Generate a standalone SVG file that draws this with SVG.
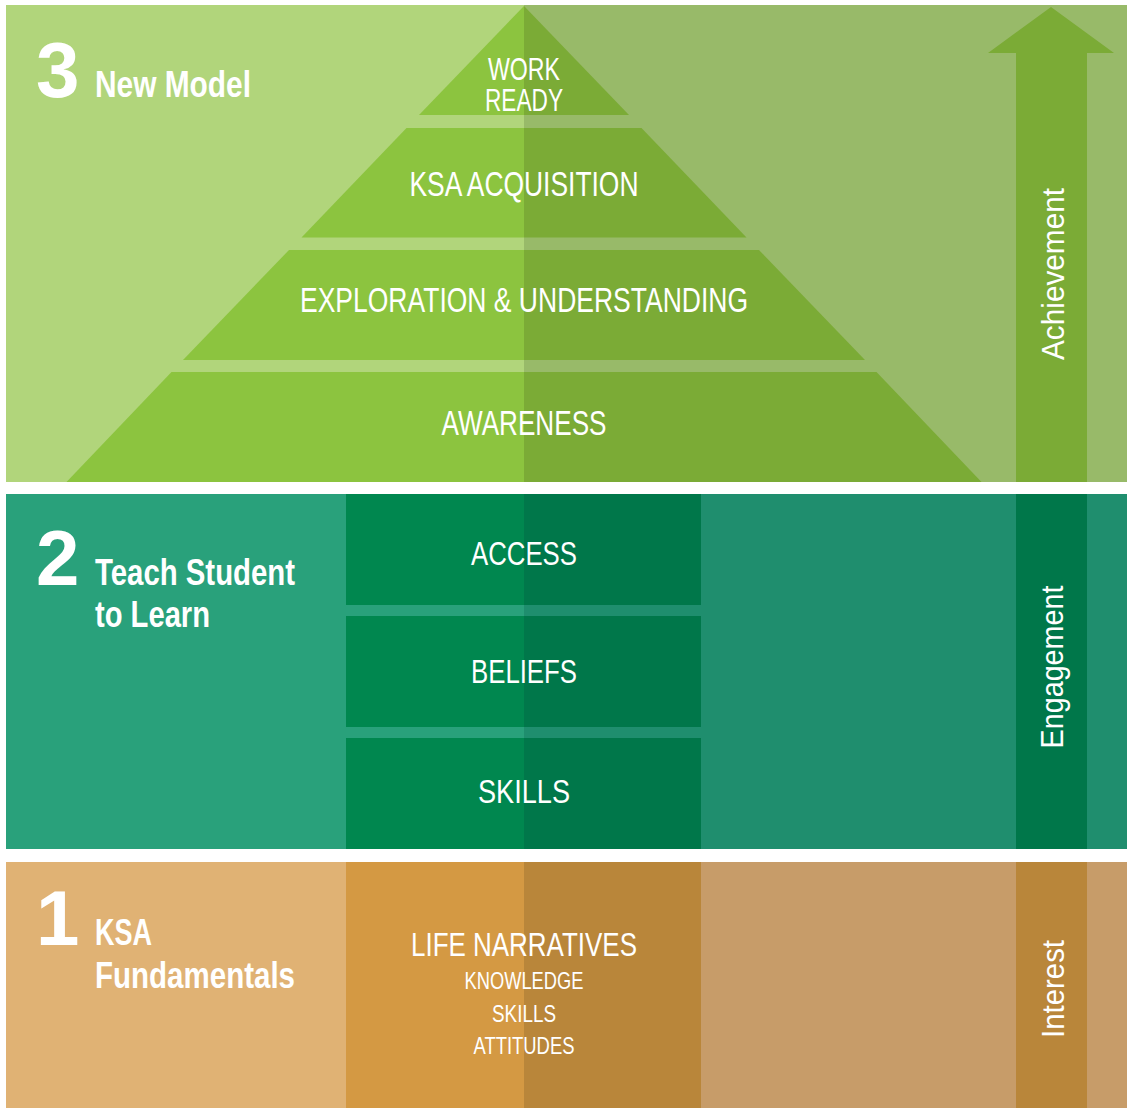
<svg xmlns="http://www.w3.org/2000/svg" width="1127" height="1108" viewBox="0 0 1127 1108">
<style>
.t{font-family:"Liberation Sans",Arial,sans-serif;fill:#fff;}
.b{font-weight:bold;}
.c{text-anchor:middle;}
.num{font-size:78px;font-weight:bold;}
.ttl{font-size:36px;}
.lbl{font-size:34px;}
.pyr{font-size:35px;}
.sm{font-size:24px;}
.rot{font-size:32px;text-anchor:middle;}
</style>
<rect width="1127" height="1108" fill="#ffffff"/>

<g id="section3">
  <rect x="6" y="5" width="518" height="477" fill="#b1d57b"/>
  <rect x="524" y="5" width="603" height="477" fill="#98ba69"/>
  <text class="t num" x="36" y="97">3</text>
  <text class="t b ttl" x="95" y="97" textLength="156" lengthAdjust="spacingAndGlyphs">New Model</text>
</g>

<g id="work-ready">
  <polygon points="524,6 419,115 524,115" fill="#8cc43f"/>
  <polygon points="524,6 629,115 524,115" fill="#7bab36"/>
  <text class="t c" font-size="31" x="524" y="80" textLength="72" lengthAdjust="spacingAndGlyphs">WORK</text>
  <text class="t c" font-size="31" x="524" y="111" textLength="78" lengthAdjust="spacingAndGlyphs">READY</text>
</g>

<g id="ksa-acquisition">
  <polygon points="406.5,128 524,128 524,237.5 301.5,237.5" fill="#8cc43f"/>
  <polygon points="524,128 641.5,128 746.5,237.5 524,237.5" fill="#7bab36"/>
  <text class="t c pyr" x="524" y="196" textLength="229" lengthAdjust="spacingAndGlyphs">KSA ACQUISITION</text>
</g>

<g id="exploration">
  <polygon points="289,250 524,250 524,360 183,360" fill="#8cc43f"/>
  <polygon points="524,250 759,250 865,360 524,360" fill="#7bab36"/>
  <text class="t c pyr" x="524" y="312" textLength="448" lengthAdjust="spacingAndGlyphs">EXPLORATION &amp; UNDERSTANDING</text>
</g>

<g id="awareness">
  <polygon points="171.5,372 524,372 524,482 66.5,482" fill="#8cc43f"/>
  <polygon points="524,372 876.5,372 981.5,482 524,482" fill="#7bab36"/>
  <text class="t c pyr" x="524" y="435" textLength="165" lengthAdjust="spacingAndGlyphs">AWARENESS</text>
</g>

<g id="achievement-arrow">
  <polygon points="1051,7 1114,53 1087,53 1087,482 1016,482 1016,53 988,53" fill="#7bab36"/>
  <text class="t rot" transform="translate(1064,274) rotate(-90)" textLength="172" lengthAdjust="spacingAndGlyphs">Achievement</text>
</g>

<g id="section2">
  <rect x="6" y="494" width="518" height="355" fill="#29a17b"/>
  <rect x="524" y="494" width="603" height="355" fill="#1f8e6e"/>
  <text class="t num" x="36" y="585">2</text>
  <text class="t b ttl" x="95" y="585" textLength="200" lengthAdjust="spacingAndGlyphs">Teach Student</text>
  <text class="t b ttl" x="95" y="627" textLength="115" lengthAdjust="spacingAndGlyphs">to Learn</text>
</g>

<g id="access">
  <rect x="346" y="494" width="178" height="111" fill="#00874f"/>
  <rect x="524" y="494" width="177" height="111" fill="#00774a"/>
  <text class="t c lbl" x="524" y="565" textLength="106" lengthAdjust="spacingAndGlyphs">ACCESS</text>
</g>

<g id="beliefs">
  <rect x="346" y="616" width="178" height="111" fill="#00874f"/>
  <rect x="524" y="616" width="177" height="111" fill="#00774a"/>
  <text class="t c lbl" x="524" y="683" textLength="106" lengthAdjust="spacingAndGlyphs">BELIEFS</text>
</g>

<g id="skills">
  <rect x="346" y="738" width="178" height="111" fill="#00874f"/>
  <rect x="524" y="738" width="177" height="111" fill="#00774a"/>
  <text class="t c lbl" x="524" y="803" textLength="92" lengthAdjust="spacingAndGlyphs">SKILLS</text>
</g>

<g id="engagement-bar">
  <rect x="1016" y="494" width="71" height="355" fill="#00774a"/>
  <text class="t rot" transform="translate(1063,667) rotate(-90)" textLength="163" lengthAdjust="spacingAndGlyphs">Engagement</text>
</g>

<g id="section1">
  <rect x="6" y="862" width="340" height="246" fill="#e0b274"/>
  <rect x="701" y="862" width="426" height="246" fill="#c79c69"/>
  <text class="t num" x="36" y="945">1</text>
  <text class="t b ttl" x="95" y="945" textLength="57" lengthAdjust="spacingAndGlyphs">KSA</text>
  <text class="t b ttl" x="95" y="988" textLength="200" lengthAdjust="spacingAndGlyphs">Fundamentals</text>
</g>

<g id="life-narratives">
  <rect x="346" y="862" width="178" height="246" fill="#d49943"/>
  <rect x="524" y="862" width="177" height="246" fill="#b9863a"/>
  <text class="t c lbl" x="524" y="956" textLength="226" lengthAdjust="spacingAndGlyphs">LIFE NARRATIVES</text>
  <text class="t c sm" x="524" y="989" textLength="119" lengthAdjust="spacingAndGlyphs">KNOWLEDGE</text>
  <text class="t c sm" x="524" y="1022" textLength="64" lengthAdjust="spacingAndGlyphs">SKILLS</text>
  <text class="t c sm" x="524" y="1054" textLength="101" lengthAdjust="spacingAndGlyphs">ATTITUDES</text>
</g>

<g id="interest-bar">
  <rect x="1016" y="862" width="71" height="246" fill="#b9863a"/>
  <text class="t rot" transform="translate(1064,989) rotate(-90)" textLength="98" lengthAdjust="spacingAndGlyphs">Interest</text>
</g>

<g id="connectors"></g>
</svg>
